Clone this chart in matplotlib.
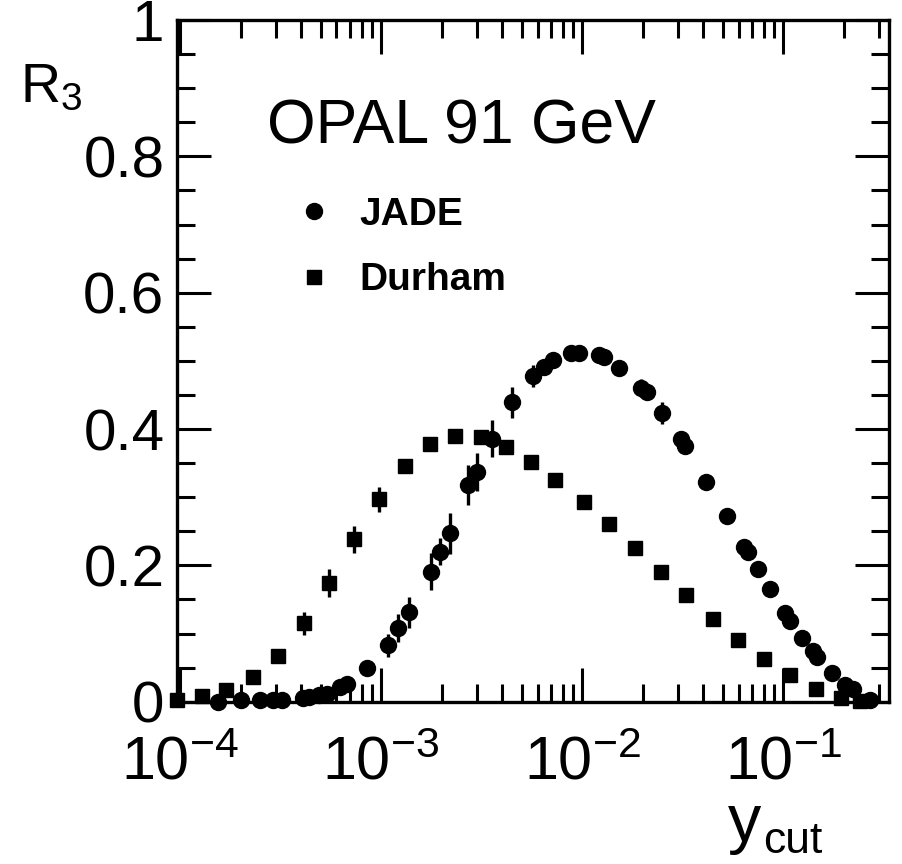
import matplotlib
matplotlib.use("Agg")
import matplotlib.pyplot as plt
from matplotlib.lines import Line2D
from matplotlib.ticker import LogLocator, FixedLocator, FixedFormatter, MultipleLocator, NullFormatter

plt.rcParams["font.family"] = ["Liberation Sans", "DejaVu Sans"]
plt.rcParams["mathtext.default"] = "regular"

# JADE algorithm
jade_x = [1.55e-4, 2.0e-4, 2.5e-4, 2.9e-4, 3.2e-4, 4.1e-4, 4.4e-4, 4.9e-4, 5.4e-4,
          6.25e-4, 6.75e-4, 8.5e-4, 1.08e-3, 1.22e-3, 1.38e-3, 1.77e-3, 1.97e-3,
          2.19e-3, 2.72e-3, 3.01e-3, 3.56e-3, 4.47e-3, 5.73e-3, 6.43e-3, 7.2e-3,
          8.8e-3, 9.6e-3, 1.21e-2, 1.29e-2, 1.53e-2, 1.96e-2, 2.1e-2, 2.51e-2,
          3.1e-2, 3.25e-2, 4.14e-2, 5.28e-2, 6.42e-2, 6.68e-2, 7.51e-2, 8.57e-2,
          0.1026, 0.108, 0.124, 0.141, 0.147, 0.175, 0.204, 0.223, 0.27]
jade_y = [0.0, 0.003, 0.003, 0.003, 0.003, 0.005, 0.007, 0.010, 0.012,
          0.022, 0.026, 0.050, 0.083, 0.108, 0.131, 0.191, 0.220,
          0.247, 0.318, 0.337, 0.386, 0.439, 0.478, 0.491, 0.501,
          0.511, 0.511, 0.508, 0.505, 0.490, 0.460, 0.454, 0.424,
          0.385, 0.375, 0.323, 0.272, 0.227, 0.220, 0.194, 0.165,
          0.130, 0.119, 0.093, 0.074, 0.065, 0.042, 0.024, 0.018, 0.003]
jade_err = [0.003, 0.003, 0.003, 0.003, 0.003, 0.003, 0.003, 0.003, 0.003,
            0.004, 0.004, 0.006, 0.017, 0.020, 0.023, 0.027, 0.020,
            0.030, 0.030, 0.028, 0.027, 0.023, 0.016, 0.012, 0.006,
            0.005, 0.005, 0.005, 0.005, 0.007, 0.013, 0.012, 0.016,
            0.012, 0.012, 0.010, 0.006, 0.006, 0.006, 0.005, 0.005,
            0.004, 0.004, 0.004, 0.004, 0.004, 0.003, 0.003, 0.003, 0.002]

# Durham algorithm
durham_x = [9.7e-5, 1.28e-4, 1.7e-4, 2.3e-4, 3.08e-4, 4.14e-4, 5.53e-4, 7.34e-4,
            9.8e-4, 1.31e-3, 1.75e-3, 2.34e-3, 3.13e-3, 4.19e-3, 5.56e-3, 7.34e-3,
            1.02e-2, 1.36e-2, 1.83e-2, 2.46e-2, 3.30e-2, 4.46e-2, 5.98e-2, 8.05e-2,
            0.1076, 0.145, 0.194, 0.24]
durham_y = [0.002, 0.008, 0.017, 0.036, 0.067, 0.115, 0.174, 0.238,
            0.297, 0.346, 0.378, 0.390, 0.388, 0.373, 0.352, 0.326,
            0.293, 0.261, 0.226, 0.190, 0.156, 0.122, 0.091, 0.063,
            0.039, 0.019, 0.005, 0.001]
durham_err = [0.003, 0.003, 0.004, 0.005, 0.008, 0.017, 0.020, 0.020,
              0.018, 0.010, 0.006, 0.005, 0.005, 0.006, 0.008, 0.010,
              0.010, 0.008, 0.006, 0.005, 0.004, 0.004, 0.004, 0.004,
              0.003, 0.003, 0.002, 0.002]

y_ticks = [0, 0.2, 0.4, 0.6, 0.8, 1.0]
y_ticklabels = ["0", "0.2", "0.4", "0.6", "0.8", "1"]

fig = plt.figure(figsize=(9.02, 8.64), dpi=100)
ax = fig.add_axes([0.1962, 0.1878, 0.7894, 0.789])

ax.errorbar(jade_x, jade_y, yerr=jade_err, fmt="o", color="black",
            markersize=11.5, elinewidth=2.4, capsize=0, clip_on=False, zorder=3)
ax.errorbar(durham_x, durham_y, yerr=durham_err, fmt="s", color="black",
            markersize=10.5, elinewidth=2.4, capsize=0, clip_on=False, zorder=3)

ax.set_xscale("log")
ax.set_xlim(9.66e-5, 0.336)
ax.set_ylim(0, 1)

ax.xaxis.set_major_locator(LogLocator(base=10, numticks=20))
ax.xaxis.set_minor_locator(LogLocator(base=10, subs=range(2, 10), numticks=20))
ax.xaxis.set_minor_formatter(NullFormatter())
ax.yaxis.set_major_locator(FixedLocator(y_ticks))
ax.yaxis.set_major_formatter(FixedFormatter(y_ticklabels))
ax.yaxis.set_minor_locator(MultipleLocator(0.05))

ax.tick_params(which="both", direction="in", top=True, right=True, width=2.2)
ax.tick_params(which="major", length=24.5)
ax.tick_params(which="minor", length=13)
ax.tick_params(axis="x", which="major", pad=24, labelsize=44)
ax.tick_params(axis="y", which="major", pad=9, labelsize=42)
for s in ax.spines.values():
    s.set_linewidth(2.4)

fig.text(267 / 902, 1 - 144 / 864, "OPAL 91 GeV", fontsize=45, va="baseline")
fig.text(20 / 902, 1 - 102 / 864, r"$R_3$", fontsize=40, va="baseline")
# axis title y_cut, drawn as main letter plus lowered subscript
fig.text(728 / 902, 1 - 841 / 864, "y", fontsize=48, va="baseline")
fig.text(763 / 902, 1 - 862 / 864, "cut", fontsize=32, va="bottom")

handles = [Line2D([], [], marker="o", ls="none", color="black", markersize=11.5),
           Line2D([], [], marker="s", ls="none", color="black", markersize=10.5)]
ax.legend(handles, ["JADE", "Durham"], loc="upper left",
          bbox_to_anchor=(295 / 902, 1 - 197 / 864), bbox_transform=fig.transFigure,
          frameon=False, prop={"weight": "bold", "size": 28},
          handlelength=1.0, handletextpad=0.65, labelspacing=0.75,
          borderpad=0, borderaxespad=0)

fig.savefig("out.png", dpi=100)
